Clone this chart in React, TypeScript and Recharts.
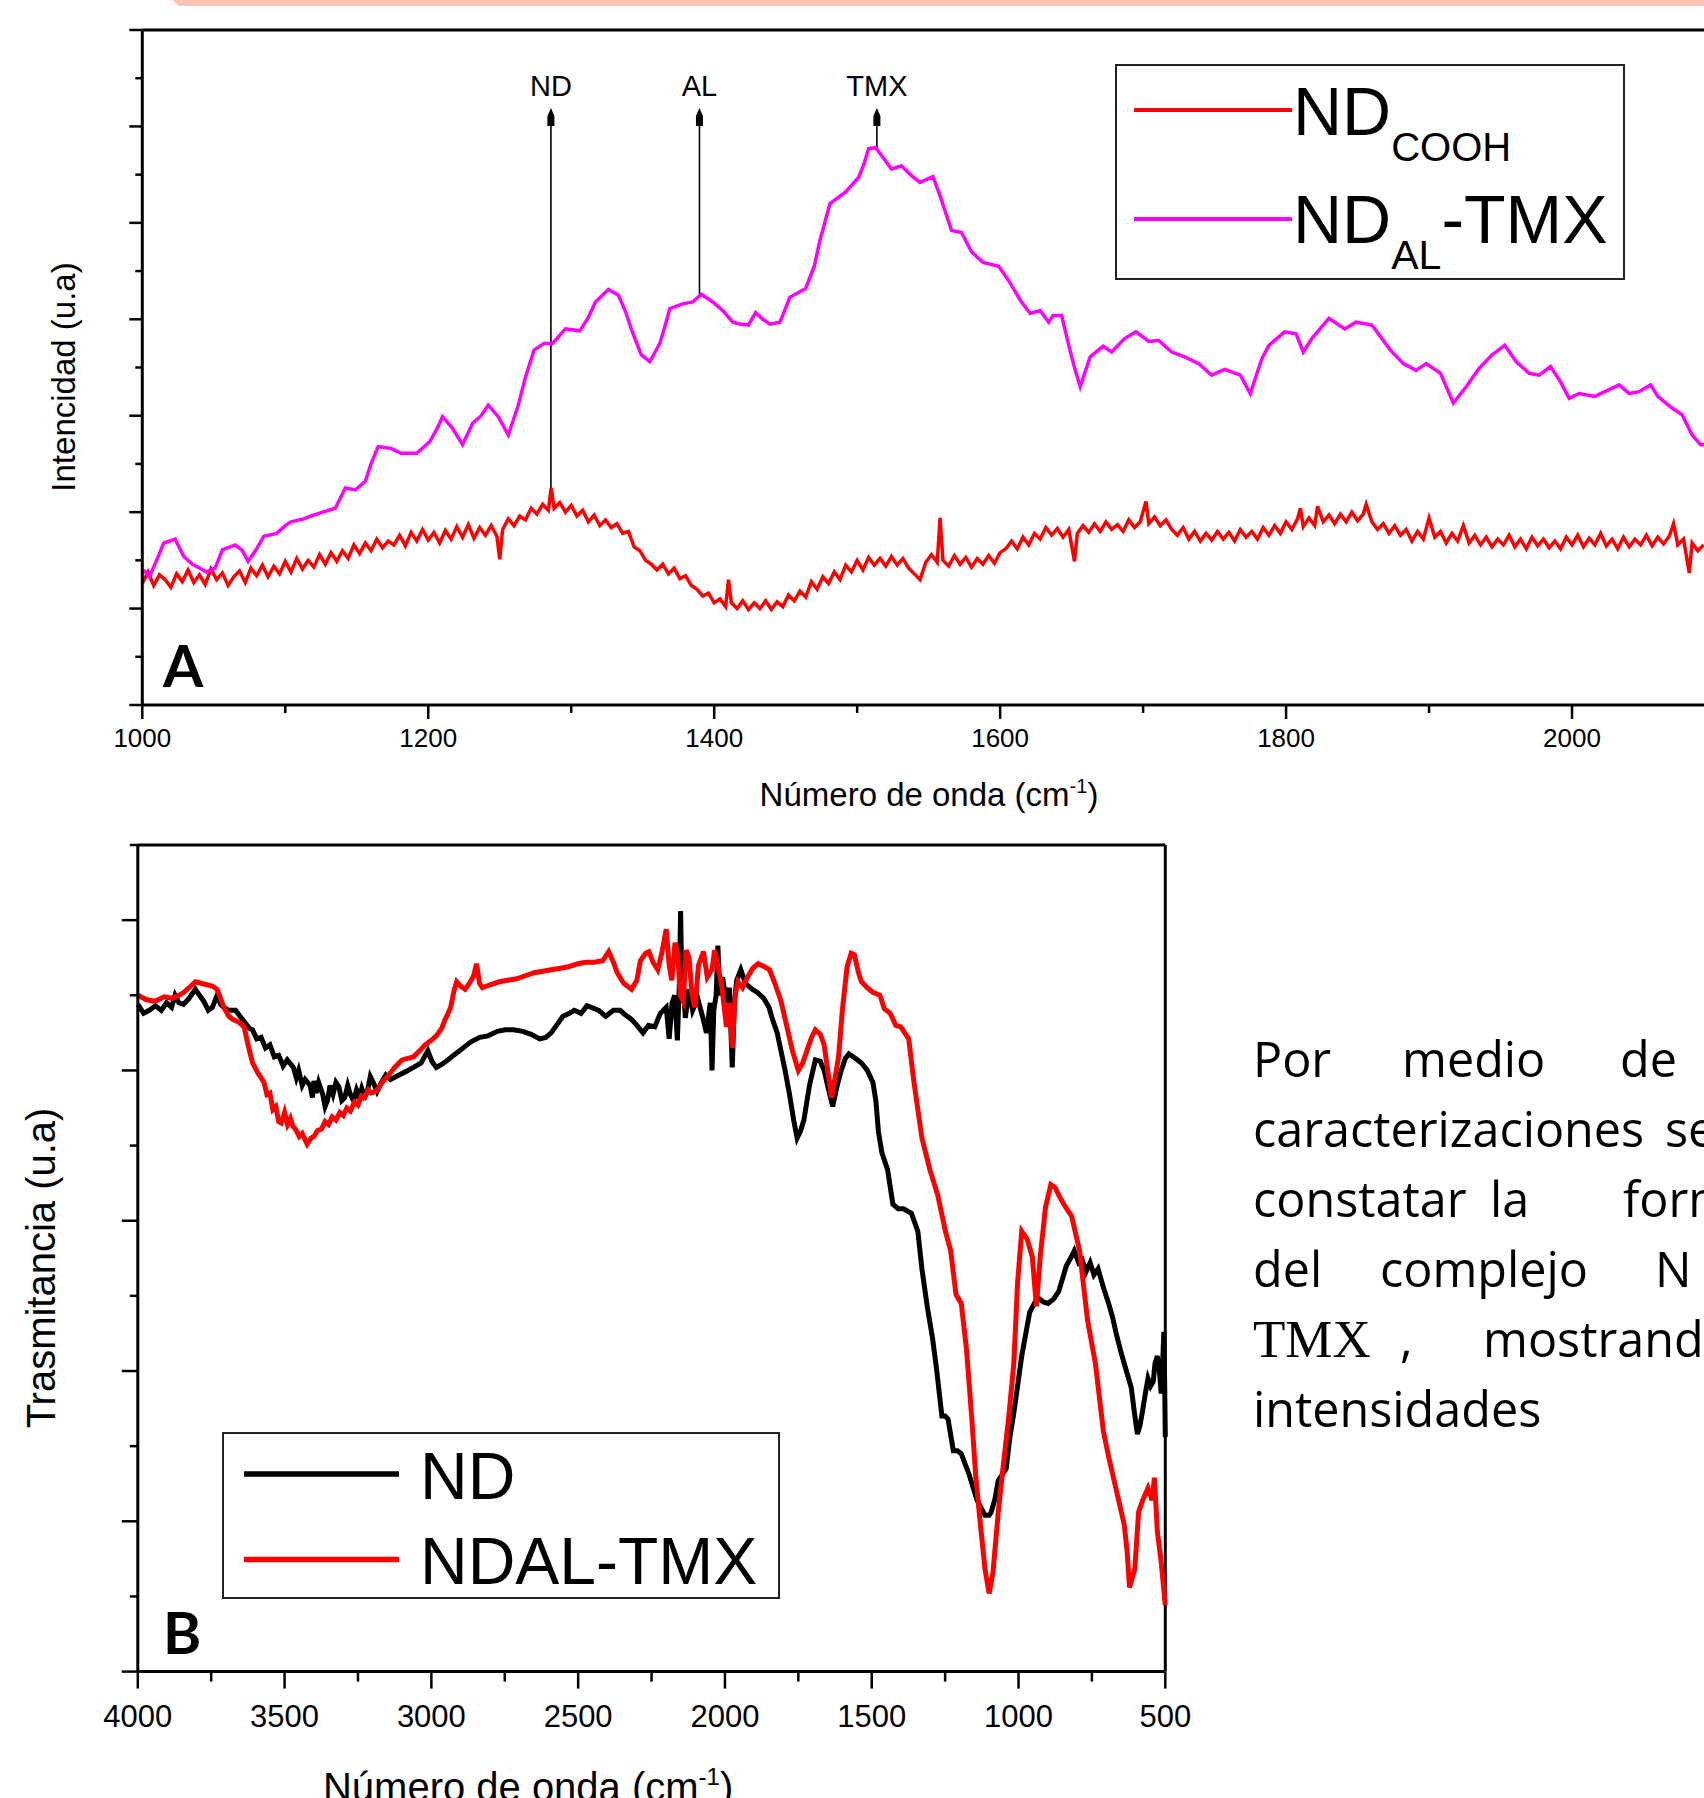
import React from "react";
import { LineChart, Line, XAxis, YAxis, ReferenceLine, Legend } from "recharts";

type Pt = [number, number];

// ---------- Panel A (Raman-like, 1000-2100 cm-1) ----------
const ndCoohA: Pt[] = [
  [1000,1.26],[1004,1.38],[1008,1.24],[1012,1.35],[1016,1.30],[1020,1.22],[1024,1.36],[1028,1.28],[1032,1.40],[1036,1.27],
  [1040,1.35],[1044,1.25],[1048,1.41],[1052,1.30],[1056,1.37],[1060,1.24],[1064,1.33],[1068,1.39],[1072,1.27],[1076,1.42],
  [1080,1.34],[1084,1.45],[1088,1.33],[1092,1.44],[1096,1.36],[1100,1.49],[1104,1.38],[1108,1.52],[1112,1.41],[1116,1.50],
  [1120,1.43],[1124,1.56],[1128,1.46],[1132,1.58],[1136,1.49],[1140,1.60],[1144,1.52],[1148,1.66],[1152,1.57],[1156,1.68],
  [1160,1.60],[1164,1.72],[1168,1.63],[1172,1.70],[1176,1.66],[1180,1.76],[1184,1.65],[1188,1.79],[1192,1.70],[1196,1.82],
  [1200,1.71],[1204,1.79],[1208,1.68],[1212,1.81],[1216,1.72],[1220,1.85],[1224,1.74],[1228,1.87],[1232,1.73],[1236,1.84],
  [1240,1.76],[1244,1.86],[1248,1.75],[1250,1.51],[1252,1.82],[1256,1.93],[1260,1.86],[1264,1.96],[1268,1.92],[1272,2.04],
  [1276,1.98],[1280,2.08],[1284,2.02],[1286,2.25],[1288,2.04],[1292,2.10],[1296,2.00],[1300,2.07],[1304,1.96],[1308,2.02],
  [1312,1.90],[1316,1.97],[1320,1.86],[1324,1.92],[1328,1.84],[1332,1.88],[1336,1.78],[1340,1.80],[1344,1.64],[1348,1.60],
  [1352,1.50],[1356,1.46],[1360,1.40],[1364,1.46],[1368,1.36],[1372,1.42],[1376,1.31],[1380,1.34],[1384,1.24],[1388,1.20],
  [1392,1.13],[1396,1.16],[1400,1.06],[1404,1.10],[1408,1.02],[1410,1.30],[1412,1.06],[1416,1.00],[1420,1.08],[1424,0.99],
  [1428,1.06],[1432,1.00],[1436,1.08],[1440,0.99],[1444,1.07],[1448,1.02],[1452,1.14],[1456,1.08],[1460,1.18],[1464,1.12],
  [1468,1.28],[1472,1.20],[1476,1.33],[1480,1.26],[1484,1.38],[1488,1.30],[1492,1.45],[1496,1.38],[1500,1.50],[1504,1.40],
  [1508,1.53],[1512,1.45],[1516,1.52],[1520,1.44],[1524,1.54],[1528,1.45],[1532,1.52],[1536,1.42],[1540,1.36],[1544,1.30],
  [1548,1.48],[1552,1.56],[1556,1.48],[1558,1.94],[1560,1.50],[1564,1.44],[1568,1.55],[1572,1.46],[1576,1.53],[1580,1.43],
  [1584,1.52],[1588,1.46],[1592,1.55],[1596,1.47],[1600,1.58],[1604,1.62],[1608,1.70],[1612,1.62],[1616,1.74],[1620,1.66],
  [1624,1.78],[1628,1.72],[1632,1.84],[1636,1.76],[1640,1.83],[1644,1.74],[1648,1.82],[1652,1.49],[1654,1.78],[1658,1.86],
  [1662,1.79],[1666,1.88],[1670,1.80],[1674,1.90],[1678,1.82],[1682,1.87],[1686,1.80],[1690,1.92],[1694,1.84],[1698,1.90],
  [1702,2.11],[1704,1.88],[1708,1.95],[1712,1.86],[1716,1.92],[1720,1.82],[1724,1.76],[1728,1.84],[1732,1.72],[1736,1.80],
  [1740,1.70],[1744,1.78],[1748,1.71],[1752,1.80],[1756,1.72],[1760,1.79],[1764,1.70],[1768,1.82],[1772,1.74],[1776,1.80],
  [1780,1.72],[1784,1.84],[1788,1.76],[1792,1.86],[1796,1.78],[1800,1.90],[1804,1.82],[1808,1.93],[1810,2.04],[1812,1.85],
  [1816,1.94],[1820,1.86],[1822,2.06],[1826,1.90],[1830,1.97],[1834,1.88],[1838,1.98],[1842,1.90],[1846,2.00],[1850,1.91],
  [1854,1.98],[1856,2.08],[1860,1.90],[1864,1.82],[1868,1.88],[1872,1.78],[1876,1.86],[1880,1.76],[1884,1.82],[1888,1.70],
  [1892,1.80],[1896,1.72],[1900,1.94],[1904,1.74],[1908,1.80],[1912,1.68],[1916,1.78],[1920,1.70],[1924,1.86],[1928,1.68],
  [1932,1.76],[1936,1.66],[1940,1.74],[1944,1.64],[1948,1.72],[1952,1.66],[1956,1.76],[1960,1.64],[1964,1.72],[1968,1.62],
  [1972,1.74],[1976,1.65],[1980,1.72],[1984,1.63],[1988,1.70],[1992,1.62],[1996,1.74],[2000,1.66],[2004,1.76],[2008,1.64],
  [2012,1.73],[2016,1.66],[2020,1.78],[2024,1.65],[2028,1.72],[2032,1.62],[2036,1.74],[2040,1.64],[2044,1.72],[2048,1.66],
  [2052,1.76],[2056,1.65],[2060,1.74],[2064,1.67],[2068,1.75],[2071,1.88],[2074,1.66],[2078,1.72],[2082,1.37],[2084,1.68],
  [2088,1.60],[2092,1.66],
];

const ndAlTmxA: Pt[] = [
  [1001,1.40],[1005,1.33],[1010,1.50],[1015,1.68],[1023,1.72],[1029,1.54],[1035,1.46],[1040,1.42],[1045,1.38],[1051,1.42],
  [1056,1.61],[1065,1.66],[1070,1.60],[1074,1.49],[1080,1.62],[1085,1.75],[1094,1.78],[1100,1.86],[1104,1.90],[1113,1.93],
  [1118,1.96],[1124,1.99],[1135,2.04],[1142,2.25],[1149,2.23],[1156,2.32],[1160,2.50],[1165,2.68],[1174,2.66],[1181,2.61],
  [1192,2.61],[1201,2.73],[1206,2.86],[1210,2.99],[1217,2.87],[1224,2.70],[1231,2.92],[1237,3.00],[1242,3.11],[1249,2.99],
  [1256,2.80],[1263,3.11],[1268,3.40],[1274,3.68],[1281,3.75],[1287,3.75],[1296,3.90],[1306,3.88],[1312,4.02],[1317,4.18],
  [1326,4.31],[1333,4.25],[1338,4.08],[1342,3.90],[1349,3.63],[1355,3.56],[1362,3.75],[1366,3.95],[1369,4.11],[1378,4.16],
  [1385,4.18],[1391,4.26],[1399,4.18],[1406,4.09],[1413,3.97],[1418,3.95],[1424,3.94],[1429,4.07],[1434,4.00],[1439,3.95],
  [1446,3.97],[1453,4.23],[1464,4.32],[1470,4.55],[1474,4.82],[1481,5.20],[1492,5.32],[1501,5.47],[1505,5.62],[1508,5.77],
  [1513,5.78],[1519,5.66],[1524,5.56],[1531,5.59],[1538,5.49],[1544,5.42],[1553,5.48],[1558,5.28],[1562,5.10],[1566,4.92],
  [1573,4.90],[1580,4.70],[1588,4.59],[1599,4.55],[1606,4.40],[1614,4.20],[1621,4.06],[1628,4.09],[1634,3.97],[1637,4.04],
  [1643,4.04],[1648,3.73],[1652,3.50],[1656,3.30],[1663,3.61],[1672,3.72],[1678,3.66],[1687,3.80],[1695,3.87],[1704,3.77],
  [1711,3.78],[1720,3.66],[1729,3.61],[1739,3.54],[1748,3.42],[1757,3.48],[1768,3.42],[1775,3.23],[1783,3.59],[1788,3.73],
  [1799,3.87],[1807,3.85],[1812,3.66],[1818,3.80],[1830,4.01],[1841,3.90],[1849,3.97],[1860,3.94],[1873,3.68],[1882,3.54],
  [1891,3.47],[1898,3.54],[1908,3.44],[1917,3.13],[1926,3.30],[1935,3.49],[1944,3.63],[1953,3.73],[1961,3.56],[1970,3.44],
  [1977,3.42],[1985,3.51],[1992,3.35],[1998,3.18],[2005,3.23],[2016,3.20],[2023,3.25],[2033,3.32],[2040,3.23],[2047,3.25],
  [2055,3.32],[2060,3.20],[2069,3.09],[2077,3.01],[2084,2.80],[2090,2.70],[2094,2.70],
];

const ticksAx = [1000, 1100, 1200, 1300, 1400, 1500, 1600, 1700, 1800, 1900, 2000, 2100];
const ticksAy = [0, 0.5, 1, 1.5, 2, 2.5, 3, 3.5, 4, 4.5, 5, 5.5, 6, 6.5, 7];

// peak markers: wavenumber, where the arrow starts (on a curve)
const peakMarks = [
  { label: "ND", x: 1285.8, from: 2.25 },
  { label: "AL", x: 1389.7, from: 4.26 },
  { label: "TMX", x: 1513.8, from: 5.78 },
];
const arrowTip = 6.19;

// ---------- Panel B (FTIR, 4000-500 cm-1) ----------
const ndB: Pt[] = [
  [4000,4.44],[3980,4.38],[3961,4.40],[3940,4.43],[3920,4.40],[3902,4.45],[3885,4.42],[3873,4.50],[3860,4.45],[3844,4.44],
  [3825,4.48],[3804,4.54],[3790,4.50],[3775,4.46],[3760,4.40],[3746,4.42],[3730,4.50],[3718,4.44],[3707,4.42],[3690,4.40],
  [3667,4.40],[3640,4.33],[3620,4.28],[3609,4.27],[3595,4.21],[3580,4.22],[3565,4.15],[3550,4.17],[3535,4.09],[3520,4.10],
  [3505,4.03],[3491,4.07],[3470,4.02],[3460,3.95],[3452,4.00],[3440,3.90],[3430,3.94],[3413,3.90],[3405,3.82],[3400,3.93],
  [3392,3.85],[3384,3.92],[3370,3.84],[3362,3.76],[3354,3.80],[3345,3.90],[3335,3.84],[3325,3.92],[3315,3.89],[3305,3.80],
  [3295,3.82],[3285,3.90],[3276,3.84],[3265,3.80],[3255,3.87],[3245,3.82],[3237,3.88],[3228,3.83],[3218,3.86],[3208,3.96],
  [3198,3.92],[3185,3.86],[3170,3.92],[3155,3.97],[3139,3.94],[3120,3.96],[3100,3.98],[3080,4.00],[3061,4.02],[3035,4.05],
  [3012,4.13],[2998,4.06],[2983,4.02],[2965,4.04],[2944,4.07],[2925,4.10],[2905,4.13],[2885,4.16],[2865,4.19],[2835,4.22],
  [2807,4.23],[2775,4.26],[2748,4.27],[2720,4.27],[2689,4.26],[2660,4.24],[2631,4.21],[2610,4.22],[2592,4.25],[2570,4.31],
  [2552,4.36],[2530,4.38],[2513,4.40],[2490,4.38],[2470,4.43],[2455,4.42],[2430,4.40],[2406,4.36],[2380,4.40],[2357,4.40],
  [2340,4.37],[2318,4.34],[2300,4.30],[2279,4.25],[2260,4.30],[2239,4.29],[2220,4.38],[2200,4.42],[2190,4.21],[2180,4.45],
  [2171,4.50],[2162,4.20],[2155,4.60],[2151,5.06],[2146,4.45],[2142,4.60],[2135,4.35],[2122,4.54],[2110,4.40],[2093,4.48],
  [2075,4.35],[2063,4.25],[2050,4.45],[2044,4.00],[2038,4.40],[2030,4.50],[2024,4.83],[2018,4.50],[2008,4.62],[1995,4.45],
  [1985,4.55],[1975,4.02],[1968,4.45],[1960,4.60],[1946,4.67],[1930,4.58],[1907,4.54],[1890,4.52],[1868,4.48],[1850,4.42],
  [1838,4.34],[1822,4.25],[1809,4.13],[1795,4.00],[1780,3.84],[1765,3.66],[1754,3.55],[1742,3.60],[1731,3.67],[1712,3.90],
  [1692,4.07],[1675,4.06],[1662,4.00],[1648,3.88],[1633,3.76],[1620,3.88],[1604,4.00],[1590,4.08],[1578,4.11],[1555,4.08],
  [1535,4.05],[1515,4.00],[1496,3.92],[1486,3.80],[1477,3.59],[1465,3.45],[1446,3.34],[1428,3.11],[1410,3.08],[1392,3.08],
  [1365,3.05],[1343,2.93],[1329,2.68],[1311,2.43],[1293,2.22],[1279,2.01],[1261,1.70],[1250,1.70],[1240,1.68],[1222,1.47],
  [1208,1.47],[1195,1.45],[1168,1.31],[1141,1.14],[1114,1.04],[1100,1.04],[1093,1.06],[1080,1.15],[1069,1.27],[1042,1.35],
  [1030,1.55],[1016,1.72],[989,2.10],[962,2.39],[935,2.49],[915,2.46],[899,2.45],[880,2.48],[863,2.53],[837,2.70],
  [820,2.76],[810,2.80],[795,2.72],[783,2.74],[770,2.66],[756,2.72],[743,2.64],[729,2.68],[710,2.55],[693,2.45],
  [680,2.36],[666,2.24],[653,2.14],[640,2.05],[628,1.97],[616,1.89],[605,1.72],[595,1.58],[586,1.64],[577,1.74],
  [568,1.85],[559,1.95],[550,1.90],[541,1.93],[535,2.05],[527,2.10],[520,2.00],[514,1.85],[509,2.05],[505,2.26],
  [502,1.90],[500,1.56],
];

const ndAlTmxB: Pt[] = [
  [4000,4.50],[3970,4.47],[3941,4.46],[3910,4.49],[3883,4.48],[3860,4.50],[3843,4.52],[3820,4.56],[3804,4.59],[3785,4.58],
  [3765,4.57],[3745,4.56],[3730,4.54],[3718,4.48],[3707,4.42],[3690,4.36],[3677,4.34],[3655,4.32],[3638,4.29],[3622,4.15],
  [3609,4.05],[3590,3.98],[3570,3.92],[3560,3.84],[3550,3.85],[3540,3.74],[3530,3.76],[3520,3.66],[3511,3.65],[3500,3.72],
  [3490,3.64],[3480,3.68],[3472,3.63],[3460,3.60],[3450,3.56],[3440,3.58],[3423,3.51],[3410,3.55],[3400,3.56],[3388,3.60],
  [3374,3.61],[3362,3.66],[3350,3.64],[3338,3.69],[3325,3.67],[3312,3.72],[3300,3.70],[3288,3.75],[3276,3.73],[3262,3.79],
  [3250,3.77],[3238,3.83],[3227,3.82],[3215,3.87],[3205,3.85],[3188,3.86],[3168,3.92],[3149,3.96],[3125,4.02],[3100,4.07],
  [3080,4.08],[3061,4.09],[3040,4.13],[3022,4.17],[3000,4.20],[2983,4.23],[2965,4.28],[2953,4.34],[2943,4.38],[2934,4.42],
  [2924,4.52],[2914,4.59],[2900,4.56],[2885,4.54],[2870,4.58],[2856,4.63],[2846,4.71],[2836,4.58],[2826,4.55],[2800,4.57],
  [2768,4.59],[2740,4.60],[2709,4.61],[2680,4.63],[2650,4.65],[2620,4.66],[2592,4.67],[2560,4.68],[2533,4.69],[2500,4.71],
  [2474,4.72],[2445,4.72],[2416,4.73],[2396,4.79],[2380,4.72],[2367,4.65],[2345,4.58],[2318,4.54],[2300,4.60],[2288,4.73],
  [2270,4.78],[2259,4.79],[2245,4.72],[2229,4.67],[2215,4.78],[2200,4.94],[2190,4.70],[2181,4.60],[2170,4.85],[2161,4.78],
  [2152,4.50],[2142,4.46],[2132,4.80],[2122,4.75],[2112,4.50],[2102,4.42],[2090,4.70],[2073,4.79],[2060,4.62],[2044,4.67],
  [2035,4.80],[2024,4.70],[2010,4.55],[1995,4.29],[1985,4.45],[1975,4.15],[1965,4.50],[1956,4.59],[1940,4.55],[1926,4.61],
  [1905,4.68],[1887,4.71],[1865,4.69],[1848,4.67],[1830,4.58],[1809,4.46],[1790,4.30],[1770,4.13],[1750,4.00],[1735,4.05],
  [1721,4.13],[1705,4.22],[1692,4.27],[1675,4.24],[1662,4.17],[1650,4.00],[1637,3.82],[1625,3.95],[1613,4.09],[1600,4.40],
  [1584,4.69],[1570,4.78],[1559,4.77],[1545,4.65],[1535,4.59],[1515,4.55],[1496,4.52],[1472,4.50],[1457,4.41],[1437,4.38],
  [1418,4.30],[1401,4.29],[1374,4.21],[1356,3.92],[1329,3.55],[1302,3.34],[1275,3.17],[1249,2.93],[1231,2.80],[1213,2.51],
  [1195,2.45],[1177,2.14],[1159,1.68],[1146,1.31],[1132,1.02],[1114,0.68],[1100,0.52],[1087,0.66],[1069,1.06],[1051,1.39],
  [1034,1.68],[1016,2.05],[1003,2.59],[989,2.93],[971,2.88],[953,2.76],[939,2.43],[926,2.76],[908,3.09],[890,3.24],
  [875,3.22],[863,3.17],[846,3.11],[819,3.03],[792,2.80],[765,2.34],[738,2.05],[711,1.60],[693,1.43],[666,1.20],
  [640,0.98],[630,0.80],[622,0.56],[604,0.68],[591,1.06],[577,1.14],[559,1.22],[545,1.14],[537,1.29],[527,0.93],
  [514,0.73],[500,0.44],
];

const ticksBx = [500, 750, 1000, 1250, 1500, 1750, 2000, 2250, 2500, 2750, 3000, 3250, 3500, 3750, 4000];
const ticksBy = [0, 0.5, 1, 1.5, 2, 2.5, 3, 3.5, 4, 4.5, 5, 5.5];

// paragraph beside panel B (justified, cut at the page edge)
const paragraph: { y: number; words: [string, number, boolean?][] }[] = [
  { y: 1077, words: [["Por", 1253], ["medio", 1402], ["de", 1620]] },
  { y: 1147, words: [["caracterizaciones", 1253], ["se", 1665]] },
  { y: 1217, words: [["constatar", 1253], ["la", 1490], ["formación", 1623]] },
  { y: 1287, words: [["del", 1253], ["complejo", 1380], ["N", 1655]] },
  { y: 1357, words: [["TMX", 1253, true], [",", 1400], ["mostrando", 1483]] },
  { y: 1427, words: [["intensidades", 1253]] },
];

const SANS = '"Liberation Sans", Arial, sans-serif';
const RED = "#ff0000";
const MAGENTA = "#ff00ff";

const toPts = (a: Pt[]) => a.map(([x, y]) => ({ x, y }));

const isStep = (v: number, step: number) => Math.abs(v / step - Math.round(v / step)) < 1e-6;

// bottom axis tick: long major ticks with labels, short minor ticks
const makeXTick = (step: number, majorLen: number, minorLen: number, fontSize: number, labelDy: number) =>
  (props: any) => {
    const { x, y, payload } = props;
    const major = isStep(payload.value, step);
    return (
      <g>
        <line x1={x} x2={x} y1={y} y2={y + (major ? majorLen : minorLen)} stroke="#000" strokeWidth={2.5} />
        {major && (
          <text x={x} y={y + labelDy} textAnchor="middle" fontSize={fontSize} fontFamily={SANS} fill="#000">
            {payload.value}
          </text>
        )}
      </g>
    );
  };

const makeYTick = (majorLen: number, minorLen: number) => (props: any) => {
  const { x, y, payload } = props;
  const major = isStep(payload.value, 1);
  return <line x1={x} x2={x - (major ? majorLen : minorLen)} y1={y} y2={y} stroke="#000" strokeWidth={2.5} />;
};

const peakArrow = (label: string) => (p: any) => {
  const { x1, y1, x2, y2 } = p;
  return (
    <g>
      <line x1={x1} y1={y1} x2={x2} y2={y2 + 10} stroke="#000" strokeWidth={1.6} />
      <polygon
        points={`${x2},${y2} ${x2 - 3.5},${y2 + 8} ${x2 - 3.5},${y2 + 18} ${x2 + 3.5},${y2 + 18} ${x2 + 3.5},${y2 + 8}`}
        fill="#000"
      />
      <text x={x2} y={y2 - 12} textAnchor="middle" fontSize={29} fontFamily={SANS} fill="#000">
        {label}
      </text>
    </g>
  );
};

const colorOf = (items: any[], name: string, fallback: string) =>
  (items.find((it: any) => it.value === name) || {}).color || fallback;

const legendA = (props: any) => {
  const items = props.payload || [];
  return (
    <svg width={512} height={218} style={{ display: "block" }}>
      <rect x={1} y={1} width={508} height={214} fill="#fff" stroke="#222" strokeWidth={2} />
      <line x1={19} x2={177} y1={46} y2={46} stroke={colorOf(items, "NDCOOH", RED)} strokeWidth={4} />
      <line x1={19} x2={177} y1={155} y2={155} stroke={colorOf(items, "NDAL-TMX", MAGENTA)} strokeWidth={4} />
      <text x={178} y={71} fontSize={68} fontFamily={SANS} fill="#000">
        ND<tspan fontSize={40} dy={26}>COOH</tspan>
      </text>
      <text x={178} y={179} fontSize={68} fontFamily={SANS} fill="#000">
        ND<tspan fontSize={41} dy={26}>AL</tspan>
        <tspan fontSize={68} dy={-26}>-TMX</tspan>
      </text>
    </svg>
  );
};

const legendBRows = [
  { name: "ND", y: 42 },
  { name: "NDAL-TMX", y: 127.5 },
];

const legendB = (props: any) => {
  const items = props.payload || [];
  return (
    <svg width={560} height={168} style={{ display: "block" }}>
      <rect x={1} y={1} width={556} height={165} fill="#fff" stroke="#222" strokeWidth={2} />
      {legendBRows.map((r) => (
        <g key={r.name}>
          <line x1={22} x2={177} y1={r.y} y2={r.y} stroke={colorOf(items, r.name, "#000")} strokeWidth={5.5} />
          <text x={198} y={r.y + 24.5} fontSize={66} fontFamily={SANS} fill="#000">
            {r.name}
          </text>
        </g>
      ))}
    </svg>
  );
};

function PanelA() {
  return (
    <div style={{ position: "absolute", left: 0, top: 0 }}>
      <LineChart width={1735} height={825} margin={{ top: 30, right: 20, bottom: 0, left: 82.3 }}>
        <XAxis
          type="number"
          dataKey="x"
          domain={[1000, 2100]}
          ticks={ticksAx}
          interval={0}
          height={120}
          tickSize={0}
          tickMargin={0}
          tickLine={false}
          tick={makeXTick(200, 14, 8, 26, 42)}
          axisLine={{ stroke: "#000", strokeWidth: 3 }}
          label={() => (
            <text x={929} y={806} textAnchor="middle" fontSize={33} fontFamily={SANS} fill="#000">
              Número de onda (cm<tspan fontSize={20} dy={-13}>-1</tspan>
              <tspan dy={13}>)</tspan>
            </text>
          )}
        />
        <YAxis
          type="number"
          domain={[0, 7]}
          ticks={ticksAy}
          interval={0}
          width={60}
          tickSize={0}
          tickMargin={0}
          tickLine={false}
          tick={makeYTick(13, 7)}
          axisLine={{ stroke: "#000", strokeWidth: 3 }}
          label={() => (
            <text
              x={63}
              y={377}
              transform="rotate(-90, 63, 377)"
              textAnchor="middle"
              dominantBaseline="central"
              fontSize={33}
              fontFamily={SANS}
              fill="#000"
            >
              Intencidad (u.a)
            </text>
          )}
        />
        <ReferenceLine y={7} stroke="#000" strokeWidth={3} />
        {peakMarks.map((m) => (
          <ReferenceLine
            key={m.label}
            segment={[{ x: m.x, y: m.from }, { x: m.x, y: arrowTip }]}
            shape={peakArrow(m.label)}
          />
        ))}
        <Line
          data={toPts(ndCoohA)}
          dataKey="y"
          name="NDCOOH"
          stroke={RED}
          strokeWidth={3.5}
          dot={false}
          activeDot={false}
          type="linear"
          isAnimationActive={false}
        />
        <Line
          data={toPts(ndAlTmxA)}
          dataKey="y"
          name="NDAL-TMX"
          stroke={MAGENTA}
          strokeWidth={3.5}
          dot={false}
          activeDot={false}
          type="linear"
          isAnimationActive={false}
        />
        <Legend
          layout="vertical"
          align="center"
          verticalAlign="middle"
          content={legendA}
          wrapperStyle={{ left: 1115, top: 63.5, width: 512, height: 218 }}
        />
      </LineChart>
    </div>
  );
}

function PanelB() {
  return (
    <div style={{ position: "absolute", left: 0, top: 800 }}>
      <LineChart width={1235.3} height={1012} margin={{ top: 45, right: 70, bottom: 0, left: 77.8 }}>
        <XAxis
          type="number"
          dataKey="x"
          domain={[500, 4000]}
          reversed
          ticks={ticksBx}
          interval={0}
          height={140.4}
          tickSize={0}
          tickMargin={0}
          tickLine={false}
          tick={makeXTick(500, 17, 10, 31, 55)}
          axisLine={{ stroke: "#000", strokeWidth: 3 }}
          label={() => (
            <text x={323} y={1001} textAnchor="start" fontSize={40} fontFamily={SANS} fill="#000">
              Número de onda (cm<tspan fontSize={24} dy={-16}>-1</tspan>
              <tspan dy={16}>)</tspan>
            </text>
          )}
        />
        <YAxis
          type="number"
          domain={[0, 5.5]}
          ticks={ticksBy}
          interval={0}
          width={60}
          tickSize={0}
          tickMargin={0}
          tickLine={false}
          tick={makeYTick(16, 8)}
          axisLine={{ stroke: "#000", strokeWidth: 3 }}
          label={() => (
            <text
              x={41}
              y={468}
              transform="rotate(-90, 41, 468)"
              textAnchor="middle"
              dominantBaseline="central"
              fontSize={40}
              fontFamily={SANS}
              fill="#000"
            >
              Trasmitancia (u.a)
            </text>
          )}
        />
        <ReferenceLine y={5.5} stroke="#000" strokeWidth={3} />
        <ReferenceLine x={500} stroke="#000" strokeWidth={3} />
        <Line
          data={toPts(ndB)}
          dataKey="y"
          name="ND"
          stroke="#000"
          strokeWidth={5}
          dot={false}
          activeDot={false}
          type="linear"
          isAnimationActive={false}
        />
        <Line
          data={toPts(ndAlTmxB)}
          dataKey="y"
          name="NDAL-TMX"
          stroke={RED}
          strokeWidth={5}
          dot={false}
          activeDot={false}
          type="linear"
          isAnimationActive={false}
        />
        <Legend
          layout="vertical"
          align="center"
          verticalAlign="middle"
          content={legendB}
          wrapperStyle={{ left: 222, top: 631.6, width: 560, height: 168 }}
        />
      </LineChart>
    </div>
  );
}

export default function App() {
  return (
    <div
      style={{
        position: "absolute",
        left: 0,
        top: 0,
        width: 1704,
        height: 1798,
        overflow: "hidden",
        background: "#fff",
      }}
    >
      <PanelA />
      <PanelB />
      <svg
        width={1704}
        height={1798}
        style={{ position: "absolute", left: 0, top: 0, pointerEvents: "none" }}
      >
        <polygon points="172,0 1704,0 1704,6 179,6" fill="#fcc3b3" />
        <text x={163} y={687} fontSize={58} fontWeight={700} fontFamily="Lato, sans-serif" fill="#000">
          A
        </text>
        <text x={163} y={1654} fontSize={58} fontWeight={700} fontFamily="Lato, sans-serif" fill="#000">
          B
        </text>
        {paragraph.map((line) =>
          line.words.map(([w, x, serif]) => (
            <text
              key={`${line.y}-${w}`}
              x={x}
              y={line.y}
              fontSize={serif ? 53 : 48.5}
              fontFamily={serif ? '"Liberation Serif", serif' : '"Open Sans", sans-serif'}
              fill="#000"
            >
              {w}
            </text>
          ))
        )}
      </svg>
    </div>
  );
}
